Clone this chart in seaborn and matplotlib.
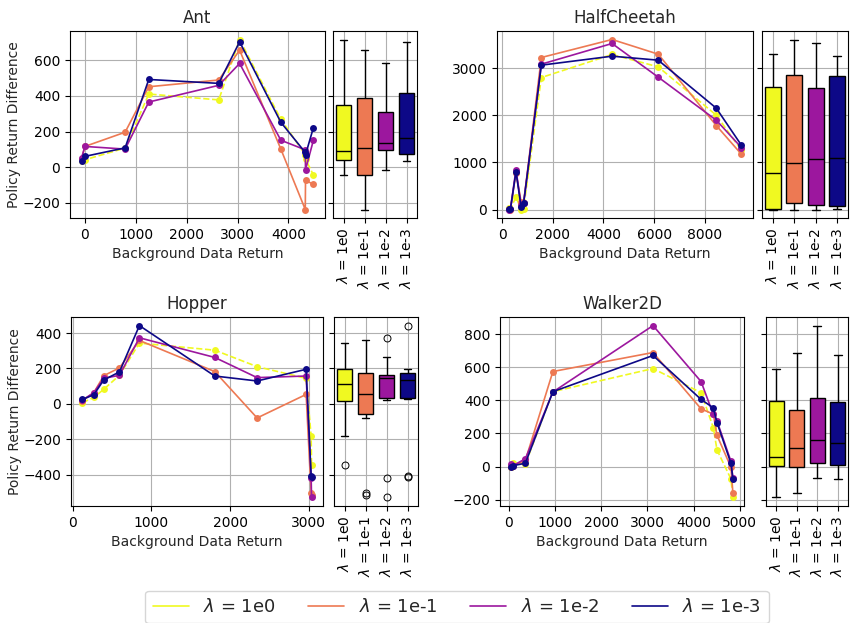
import numpy as np
import pandas as pd
import matplotlib
matplotlib.use("Agg")
import matplotlib.pyplot as plt
from matplotlib.ticker import MultipleLocator
import seaborn as sns

# ---------------- data ----------------
lambda_labels = ["$\\lambda$ = 1e0", "$\\lambda$ = 1e-1", "$\\lambda$ = 1e-2", "$\\lambda$ = 1e-3"]

ant_x = [-65, 0, 790, 1255, 2630, 3040, 3850, 4330, 4335, 4490]
ant_1e0 = [35, 41, 107, 411, 378, 718, 269, 69, 45, -45]
ant_1e1 = [45, 116, 196, 452, 490, 658, 101, -239, -75, -97]
ant_1e2 = [52, 116, 101, 366, 460, 583, 151, 97, -15, 151]
ant_1e3 = [32, 60, 108, 493, 471, 705, 252, 82, 69, 222]

hc_x = [260, 330, 550, 750, 850, 1550, 4340, 6160, 8450, 9440]
hc_1e0 = [25, 10, 270, 0, 20, 2808, 3298, 3035, 2007, 1262]
hc_1e1 = [20, 0, 781, 170, 140, 3234, 3617, 3305, 1787, 1177]
hc_1e2 = [0, 10, 851, 95, 140, 3092, 3532, 2816, 1900, 1319]
hc_1e3 = [20, 5, 805, 60, 130, 3071, 3262, 3177, 2156, 1369]

hop_x = [123, 267, 394, 593, 847, 1805, 2343, 2966, 3030, 3035]
hop_1e0 = [6, 36, 82, 161, 343, 303, 210, 144, -184, -345]
hop_1e1 = [17, 63, 159, 203, 358, 182, -80, 53, -506, -514]
hop_1e2 = [21, 63, 144, 161, 373, 262, 148, 157, -421, -529]
hop_1e3 = [25, 51, 135, 180, 442, 157, 129, 195, -406, -415]

w2d_x = [50, 90, 359, 955, 3123, 4164, 4429, 4508, 4810, 4853]
w2d_1e0 = [0, 20, 16, 453, 593, 447, 235, 101, -75, -187]
w2d_1e1 = [-4, 5, 37, 575, 690, 349, 317, 189, -4, -160]
w2d_1e2 = [16, 5, 47, 451, 853, 514, 315, 276, 32, -69]
w2d_1e3 = [0, 5, 20, 453, 672, 406, 355, 266, 20, -75]

envs = [
    ("Ant", ant_x, [ant_1e0, ant_1e1, ant_1e2, ant_1e3]),
    ("HalfCheetah", hc_x, [hc_1e0, hc_1e1, hc_1e2, hc_1e3]),
    ("Hopper", hop_x, [hop_1e0, hop_1e1, hop_1e2, hop_1e3]),
    ("Walker2D", w2d_x, [w2d_1e0, w2d_1e1, w2d_1e2, w2d_1e3]),
]

# ---------------- style ----------------
sns.set_style("ticks")
plt.rcParams["font.family"] = ["DejaVu Sans"]
plt.rcParams["font.size"] = 10
plt.rcParams["axes.edgecolor"] = "black"
plt.rcParams["xtick.color"] = "black"
plt.rcParams["ytick.color"] = "black"

cmap = plt.get_cmap("plasma")
colors = [cmap(v) for v in (1.0, 0.667, 0.333, 0.0)]
linestyles = ["--", "-", "-", "-"]

W, H = 850, 623
fig = plt.figure(figsize=(W / 100, H / 100), dpi=100)

def ax_px(x0, x1, y0, y1):
    return fig.add_axes([x0 / W, 1 - y1 / H, (x1 - x0) / W, (y1 - y0) / H])

layout = [
    ((70, 325, 31, 218), (333, 417, 31, 218)),
    ((497, 753, 31, 218), (762, 848, 31, 218)),
    ((71, 323, 317, 506), (334, 418, 317, 506)),
    ((500, 744, 317, 506), (766, 848, 317, 506)),
]

for i, ((name, xs, series), (lpos, bpos)) in enumerate(zip(envs, layout)):
    ax = ax_px(*lpos)
    bax = ax_px(*bpos)
    bax.sharey(ax)
    for k, (vals, lab) in enumerate(zip(series, lambda_labels)):
        df = pd.DataFrame({"x": xs, "y": vals})
        sns.lineplot(data=df, x="x", y="y", ax=ax, color=colors[k], linestyle=linestyles[k],
                     marker="o", markersize=5, markeredgewidth=0, linewidth=1.2,
                     estimator=None, sort=True, label=lab, legend=False)
    ax.set_title(name, fontsize=12)
    ax.set_xlabel("Background Data Return")
    if i % 2 == 0:
        ax.set_ylabel("Policy Return Difference", labelpad=1)
    else:
        ax.set_ylabel("")
    if name == "Walker2D":
        ax.xaxis.set_major_locator(MultipleLocator(1000))
    ax.grid(True, color="#b0b0b0", linewidth=0.8)
    ax.set_axisbelow(True)

    long = pd.DataFrame({
        "lam": np.repeat(lambda_labels, [len(s) for s in series]),
        "val": np.concatenate([np.asarray(s, float) for s in series]),
    })
    sns.boxplot(data=long, x="lam", y="val", hue="lam", order=lambda_labels,
                hue_order=lambda_labels, palette=colors, saturation=1, ax=bax,
                linecolor="black", linewidth=1, width=0.75, legend=False,
                flierprops=dict(marker="o", markersize=5, markerfacecolor="none",
                                markeredgecolor="black", markeredgewidth=0.7))
    bax.set_xlabel("")
    bax.set_ylabel("")
    bax.tick_params(axis="x", rotation=90)
    bax.tick_params(axis="y", labelleft=False)
    bax.grid(True, color="#b0b0b0", linewidth=0.8)
    bax.set_axisbelow(True)
    for sp in list(ax.spines.values()) + list(bax.spines.values()):
        sp.set_visible(True)
        sp.set_color("black")

handles = [plt.Line2D([0], [0], color=colors[k], linewidth=1.2) for k in range(4)]
fig.legend(handles, lambda_labels, loc="center", ncol=4, fontsize=13,
           bbox_to_anchor=(457 / W, 1 - 607 / H), columnspacing=1.8, frameon=True)

fig.savefig("out.png", dpi=100)
